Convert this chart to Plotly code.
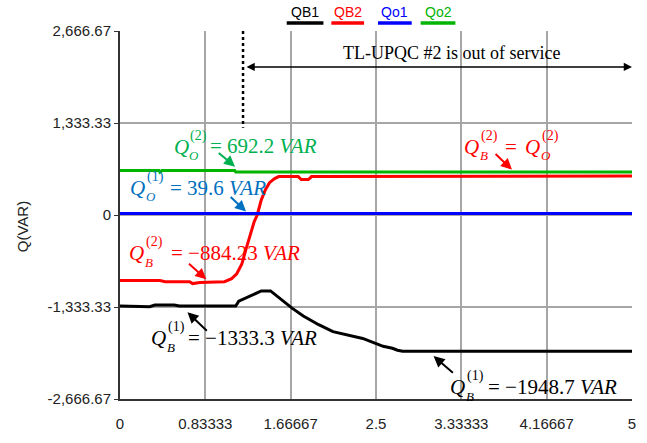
import plotly.graph_objects as go

# ---------------- data ----------------
qb1_t = [0, 0.29, 0.34, 0.53, 0.58, 1.13, 1.16, 1.31, 1.38, 1.47, 1.60, 1.68, 1.79, 1.94,
         2.08, 2.23, 2.37, 2.47, 2.57, 2.66, 2.71, 2.76, 5.0]
qb1_v = [-1320, -1330, -1305, -1305, -1320, -1320, -1250, -1150, -1100, -1100, -1250, -1350,
         -1463, -1590, -1690, -1747, -1789, -1846, -1903, -1931, -1960, -1974, -1974]

qb2_t = [0, 0.39, 0.44, 0.68, 0.71, 0.78, 1.02, 1.09, 1.14, 1.19, 1.23, 1.27, 1.31, 1.34,
         1.38, 1.42, 1.46, 1.51, 1.55, 1.74, 1.77, 1.84, 1.87, 5.0]
qb2_v = [-951, -951, -966, -966, -994, -980, -966, -923, -852, -710, -497, -284, -99, 0,
         220, 366, 469, 527, 557, 557, 513, 513, 557, 564]

qo1_t = [0, 5.0]
qo1_v = [20, 20]

qo2_t = [0, 0.38, 0.39, 0.41, 1.12, 1.13, 5.0]
qo2_v = [645, 645, 620, 645, 645, 623, 623]

x_ticks = [0, 0.83333, 1.66667, 2.5, 3.33333, 4.16667, 5]
x_ticktext = ["0", "0.83333", "1.66667", "2.5", "3.33333", "4.16667", "5"]
y_ticks = [-2666.67, -1333.33, 0, 1333.33, 2666.67]
y_ticktext = ["-2,666.67", "-1,333.33", "0", "1,333.33", "2,666.67"]

series = [("QB1", qb1_t, qb1_v, "#000000"),
          ("QB2", qb2_t, qb2_v, "#ff0000"),
          ("Qo1", qo1_t, qo1_v, "#0000ff"),
          ("Qo2", qo2_t, qo2_v, "#00b400")]

# ---------------- geometry ----------------
W, H = 647, 443
ML, MR, MT, MB = 120, 11, 31, 43
XR = (0, 5)
YR = (-2666.67, 2666.67)
PW, PH = W - ML - MR, H - MT - MB


def dx(px):
    return XR[0] + (px - ML) / PW * (XR[1] - XR[0])


def dy(py):
    return YR[1] - (py - MT) / PH * (YR[1] - YR[0])


def px_paper(px):
    return (px - ML) / PW


def py_paper(py):
    return (H - MB - py) / PH


fig = go.Figure()
for name, t, v, c in series:
    fig.add_trace(go.Scatter(x=t, y=v, mode="lines", name=name,
                             line=dict(color=c, width=3), showlegend=False))

anns = []
MF = "Liberation Serif"


def txt(px, py, s, color, size=21):
    anns.append(dict(x=dx(px), y=dy(py), xref="x", yref="y", text=s, showarrow=False,
                     xanchor="left", yanchor="middle", font=dict(family=MF, size=size, color=color),
                     borderpad=0))


def qsym(px, py, sup, sub, color):
    txt(px, py, "<i>Q</i>", color, 21)
    txt(px + 17, py - 11, sup, color, 14)
    txt(px + 16, py + 9, "<i>" + sub + "</i>", color, 13)


def arrow(head, tail, color):
    anns.append(dict(x=dx(head[0]), y=dy(head[1]), ax=dx(tail[0]), ay=dy(tail[1]),
                     xref="x", yref="y", axref="x", ayref="y", text="", showarrow=True,
                     arrowhead=2, arrowsize=1.1, arrowwidth=2, arrowcolor=color, standoff=0))


GREEN_T = "#00b050"
BLUE_T = "#0070c0"
RED_T = "#ff0000"

# green label
qsym(173, 147, "(2)", "O", GREEN_T)
txt(210, 146, "= 692.2 <i>VAR</i>", GREEN_T)
arrow((236, 167), (218, 152), GREEN_T)
# blue label
qsym(129, 188, "(1)", "O", BLUE_T)
txt(169, 188, "= 39.6 <i>VAR</i>", BLUE_T)
arrow((247, 212), (230, 196), BLUE_T)
# red label
qsym(128, 254, "(2)", "B", RED_T)
txt(170, 254, "= \u2212884.23 <i>VAR</i>", RED_T)
arrow((207, 280), (188, 263), RED_T)
# red right label
qsym(466, 147, "(2)", "B", RED_T)
txt(507, 147, "=", RED_T)
qsym(527, 147, "(2)", "O", RED_T)
arrow((515, 170), (497, 153), RED_T)
# black labels
qsym(150, 339, "(1)", "B", "#000000")
txt(188, 339, "= \u22121333.3 <i>VAR</i>", "#000000")
arrow((188, 313), (209, 333), "#000000")
qsym(452, 388, "(1)", "B", "#000000")
txt(490, 388, "= \u22121948.7 <i>VAR</i>", "#000000")
arrow((436, 357), (457, 375), "#000000")

# out of service text + double arrow
anns.append(dict(x=dx(454), y=dy(53), xref="x", yref="y", text="TL-UPQC #2 is out of service",
                 showarrow=False, font=dict(family=MF, size=18, color="#000000")))
anns.append(dict(x=dx(636), y=dy(67), ax=dx(246), ay=dy(67), xref="x", yref="y",
                 axref="x", ayref="y", text="", showarrow=True, arrowhead=2, startarrowhead=2,
                 arrowside="end+start", arrowsize=1.1, startarrowsize=1.1, arrowwidth=1.5,
                 arrowcolor="#000000", standoff=0, startstandoff=0))

# legend
leg = [("QB1", "#000000", 288, 325), ("QB2", "#ff0000", 333, 366),
       ("Qo1", "#0000ff", 380, 414), ("Qo2", "#00b400", 423, 458)]
shapes = []
for name, c, x0, x1 in leg:
    anns.append(dict(x=px_paper((x0 + x1) / 2), y=py_paper(12), xref="paper", yref="paper",
                     text=name, showarrow=False, xanchor="center", yanchor="middle",
                     font=dict(family="Liberation Sans", size=14, color=c)))
    shapes.append(dict(type="line", xref="paper", yref="paper", x0=px_paper(x0), x1=px_paper(x1),
                       y0=py_paper(23), y1=py_paper(23), line=dict(color=c, width=3.5)))

# y-axis title
anns.append(dict(x=px_paper(22), y=py_paper(227), xref="paper", yref="paper", text="Q(VAR)",
                 showarrow=False, textangle=-90, xanchor="center", yanchor="middle",
                 font=dict(family="Liberation Sans", size=15, color="#222222")))

# dotted vertical marker
shapes.append(dict(type="line", xref="x", yref="y", x0=dx(244), x1=dx(244), y0=YR[1], y1=dy(128),
                   line=dict(color="#000000", width=2.5, dash="dot")))

fig.update_layout(
    width=W, height=H, margin=dict(l=ML, r=MR, t=MT, b=MB),
    paper_bgcolor="white", plot_bgcolor="white",
    annotations=anns, shapes=shapes,
    xaxis=dict(range=list(XR), tickvals=x_ticks, ticktext=x_ticktext, showgrid=True,
               gridcolor="#a6a6a6", gridwidth=1.5, showline=True, linecolor="#333333", linewidth=2,
               ticks="", zeroline=False, ticklabelstandoff=10,
               tickfont=dict(family="Liberation Sans", size=15, color="#222222")),
    yaxis=dict(range=list(YR), tickvals=y_ticks, ticktext=y_ticktext, showgrid=True,
               gridcolor="#a6a6a6", gridwidth=1.5, showline=True, linecolor="#333333", linewidth=2,
               ticks="outside", ticklen=4, tickcolor="#333333", zeroline=False,
               tickfont=dict(family="Liberation Sans", size=15, color="#222222")),
)

fig.write_html("out.html")
